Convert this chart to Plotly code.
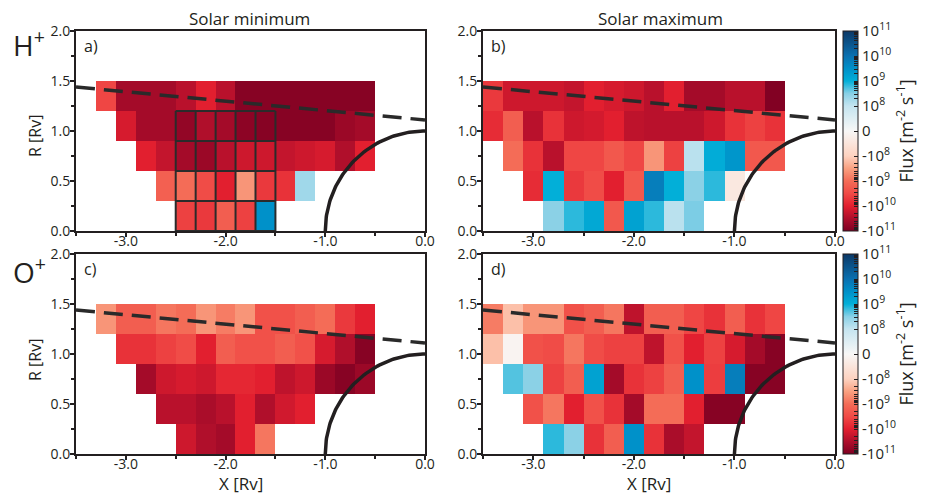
import numpy as np
import plotly.graph_objects as go

# ---------------- data ----------------
X_CENTERS = [-3.4, -3.2, -3.0, -2.8, -2.6, -2.4, -2.2, -2.0, -1.8, -1.6, -1.4, -1.2, -1.0, -0.8, -0.6]
R_CENTERS = [0.15, 0.45, 0.75, 1.05, 1.35]
N = None

# Flux [m^-2 s^-1], rows from bottom (R=0.15) to top (R=1.35)
flux_h_min = [
    [N, N, N, N, N, -4e9, -5e9, -1.6e9, -4e9, 3e9, N, N, N, N, N],
    [N, N, N, N, -1.5e9, -1e9, -3e9, -1e10, -4e8, -5e9, -6e9, 2e8, N, N, N],
    [N, N, N, -1e10, -2e10, -4e10, -5e10, -2.5e10, -1.6e10, -1.6e10, -2e10, -1.6e10, -1.3e10, -3e10, -1e10],
    [N, N, -1.3e10, -4e10, -4e10, -6e10, -3e10, -4e10, -7e10, -8e10, -8e10, -8e10, -8e10, -5e10, -4e10],
    [N, -3.5e9, -4e10, -4e10, -4e10, -2.5e10, -1e10, -2.5e10, -8e10, -8e10, -8e10, -8e10, -8e10, -8e10, -8e10],
]
flux_h_max = [
    [N, N, N, 3e8, 7e8, 1.3e9, -2e9, 1.6e9, 7e8, 1.2e8, 3.5e8, N, N, N, N],
    [N, N, -7e9, 1e9, -5e9, -3e9, -1e10, -2e9, 6e9, 1e9, 3e8, 7e8, -4e7, N, N],
    [N, -1e9, -6e9, -2.5e10, -3.5e9, -3.5e9, -2e9, -3.5e9, -4e8, -4e9, 1.2e8, 1.1e9, 2.5e9, -2e9, -2e9],
    [-7e9, -1.6e9, -2.5e10, -6e9, -1.6e10, -1.4e10, -1e10, -2.2e10, -2.5e10, -2.5e10, -2.5e10, -1.6e10, -6e9, -4e9, -6e9],
    [-5e9, -1.6e10, -1.6e10, -1.6e10, -2e10, -1e10, -1.3e10, -1.6e10, -2.5e10, -1e10, -4e10, -4e10, -2.5e10, -2.5e10, -9e10],
]
flux_o_min = [
    [N, N, N, N, N, -1.6e10, -3e10, -4e10, -1e10, -8e8, N, N, N, N, N],
    [N, N, N, N, -2.5e10, -2.5e10, -3.5e10, -2.5e10, -1e10, -3e10, -1.5e10, -1e10, N, N, N],
    [N, N, N, -4e10, -1.6e10, -1.3e10, -1.6e10, -8e9, -8e9, -1e10, -2.2e10, -1.6e10, -5e10, -8e10, -5e10],
    [N, N, -6e9, -6e9, -4e9, -3e9, -1e10, -1.6e9, -2.5e9, -2.5e9, -1.6e9, -2.5e9, -1.3e10, -3e10, -8e10],
    [N, -4e8, -1.6e9, -1.6e9, -8e8, -1e9, -4e8, -7e8, -4e8, -2.5e9, -2.5e9, -1.6e9, -1e9, -5e9, -1e10],
]
flux_o_max = [
    [N, N, N, 7e8, 3e8, -6e9, -1.6e9, 3e9, -6e9, -3.5e10, -2e10, N, N, N, N],
    [N, N, -2.5e9, -8e8, -1e10, -2.5e9, -6e9, -4e10, -1e9, -1e9, -1e10, -8e10, -8e10, N, N],
    [N, 5e8, 3e8, -4e9, -1.6e9, 1.6e9, -4e10, -6e9, -4e9, -1.6e9, 3e9, -4.5e9, 6e9, -8e10, -8e10],
    [-1.5e8, -1e7, -2.5e9, -3e9, -8e8, -3e9, -4e9, -4e9, -2.2e10, -2.5e9, -1e10, -4e9, -1.3e10, -4e10, -8e10],
    [-7e8, -1.5e8, -4e8, -4e8, -2.5e9, -1.6e9, -8e8, -2.2e10, -1.6e9, -1.6e9, -3.5e9, -6e9, -1.6e9, -6e9, -3.5e9],
]

# highlighted cells in panel a (columns / rows)
HIGHLIGHT_X = [-2.4, -2.2, -2.0, -1.8, -1.6]
HIGHLIGHT_R = [0.15, 0.45, 0.75, 1.05]

# boundary (dashed) and planet outline
BOUNDARY_X = [-3.5, 0.0]
BOUNDARY_R = [1.44, 1.11]
PLANET_RADIUS = 1.0

X_TICKS = [-3.0, -2.0, -1.0, 0.0]
X_TICK_LABELS = ["-3.0", "-2.0", "-1.0", "0.0"]
Y_TICKS = [0.0, 0.5, 1.0, 1.5, 2.0]
Y_TICK_LABELS = ["0.0", "0.5", "1.0", "1.5", "2.0"]
CB_EXPONENTS = [8, 9, 10, 11]

# ---------------- helpers ----------------
LIN = 1e8


def symlog(v):
    if v is None:
        return None
    a = abs(v)
    if a < LIN:
        return v / LIN
    return float(np.sign(v)) * (np.log10(a) - 7)


def tz(rows):
    return [[symlog(v) for v in row] for row in rows]


stops = [
    (-4.0, "#7e0022"),
    (-3.5, "#ae0e2b"),
    (-3.0, "#e21f2f"),
    (-2.5, "#f04a46"),
    (-2.0, "#f46c57"),
    (-1.5, "#f9a080"),
    (-1.0, "#fdd2c0"),
    (0.0, "#f8f7f6"),
    (1.0, "#c4e4f0"),
    (1.5, "#88d0e6"),
    (2.0, "#02afd8"),
    (2.5, "#0090c8"),
    (3.0, "#0a70b0"),
    (4.0, "#0c3866"),
]
COLORSCALE = [[(t + 4) / 8, c] for t, c in stops]

cb_vals, cb_text = [], []
for e in CB_EXPONENTS:
    for s in (1, -1):
        cb_vals.append(s * (e - 7))
        cb_text.append(("" if s > 0 else "-") + "10<sup>%d</sup>" % e)
        if e < CB_EXPONENTS[-1]:
            for m in range(2, 10):
                cb_vals.append(s * (e - 7 + np.log10(m)))
                cb_text.append(" ")
cb_vals.append(0)
cb_text.append("0")

INK = "#231F20"
FONT = "Open Sans"
W, H = 930, 494

boxes = {
    1: (76, 425, 31, 231),
    2: (483, 835, 31, 231),
    3: (76, 425, 254, 454),
    4: (483, 835, 254, 454),
}

fig = go.Figure()

panels = [(1, flux_h_min, "coloraxis"), (2, flux_h_max, "coloraxis"),
          (3, flux_o_min, "coloraxis2"), (4, flux_o_max, "coloraxis2")]

theta = np.linspace(0, np.pi / 2, 80)
arc_x = -PLANET_RADIUS * np.cos(theta)
arc_y = PLANET_RADIUS * np.sin(theta)

for i, data, cax in panels:
    xa = "x" if i == 1 else "x%d" % i
    ya = "y" if i == 1 else "y%d" % i
    fig.add_trace(go.Heatmap(x=X_CENTERS, y=R_CENTERS, z=tz(data), coloraxis=cax,
                             xaxis=xa, yaxis=ya, hoverongaps=False, xgap=0, ygap=0))
    fig.add_trace(go.Scatter(x=BOUNDARY_X, y=BOUNDARY_R, mode="lines", xaxis=xa, yaxis=ya,
                             line=dict(color="#2a2a2a", width=3.5, dash="19px,9px"),
                             showlegend=False, hoverinfo="skip"))
    fig.add_trace(go.Scatter(x=arc_x, y=arc_y, mode="lines", xaxis=xa, yaxis=ya,
                             line=dict(color=INK, width=3.5), showlegend=False, hoverinfo="skip"))

dx = X_CENTERS[1] - X_CENTERS[0]
dr = R_CENTERS[1] - R_CENTERS[0]
x_edges = [c - dx / 2 for c in HIGHLIGHT_X] + [HIGHLIGHT_X[-1] + dx / 2]
r_edges = [c - dr / 2 for c in HIGHLIGHT_R] + [HIGHLIGHT_R[-1] + dr / 2]
gx, gy = [], []
for xe in x_edges:
    gx += [xe, xe, None]
    gy += [r_edges[0], r_edges[-1], None]
for re_ in r_edges:
    gx += [x_edges[0], x_edges[-1], None]
    gy += [re_, re_, None]
fig.add_trace(go.Scatter(x=gx, y=gy, mode="lines", line=dict(color="#2b2b2b", width=2),
                         xaxis="x", yaxis="y", showlegend=False, hoverinfo="skip"))

tickfont = dict(family=FONT, size=14, color=INK)
layout = {}
for i, (l, r, t, b) in boxes.items():
    sx = "" if i == 1 else str(i)
    layout["xaxis" + sx] = dict(
        domain=[l / W, r / W], range=[-3.5, 0.0], anchor="y" + sx,
        tickmode="array", tickvals=X_TICKS, ticktext=X_TICK_LABELS,
        ticks="outside", ticklen=4, tickwidth=1.5, tickcolor=INK, ticklabelstandoff=-8,
        minor=dict(dtick=0.5, tick0=0, ticks="outside", ticklen=3, tickwidth=1.5, tickcolor=INK),
        showline=True, linecolor=INK, linewidth=2, mirror=True,
        showgrid=False, zeroline=False, tickfont=tickfont, fixedrange=True, automargin=False)
    layout["yaxis" + sx] = dict(
        domain=[1 - b / H, 1 - t / H], range=[0.0, 2.0], anchor="x" + sx,
        tickmode="array", tickvals=Y_TICKS, ticktext=Y_TICK_LABELS,
        ticks="outside", ticklen=4, tickwidth=1.5, tickcolor=INK, ticklabelstandoff=-3,
        minor=dict(dtick=0.25, tick0=0, ticks="outside", ticklen=3, tickwidth=1.5, tickcolor=INK),
        showline=True, linecolor=INK, linewidth=2, mirror=True,
        showgrid=False, zeroline=False, tickfont=tickfont, fixedrange=True, automargin=False)


def cbar(top, bottom):
    return dict(
        x=843 / W, xanchor="left", thickness=15, thicknessmode="pixels",
        len=(bottom - top) / H, lenmode="fraction", y=1 - (top + bottom) / 2 / H, yanchor="middle",
        tickmode="array", tickvals=cb_vals, ticktext=cb_text,
        ticks="inside", ticklen=4, tickcolor=INK, tickwidth=1,
        outlinecolor=INK, outlinewidth=1, tickfont=dict(family=FONT, size=15, color=INK),
        ypad=0, xpad=0,
        title=dict(text="Flux [m<sup>-2</sup> s<sup>-1</sup>]", side="right",
                   font=dict(family=FONT, size=18, color=INK)),
    )


layout["coloraxis"] = dict(colorscale=COLORSCALE, cmin=-4, cmax=4, colorbar=cbar(31, 231))
layout["coloraxis2"] = dict(colorscale=COLORSCALE, cmin=-4, cmax=4, colorbar=cbar(254, 454))

ann = []


def A(text, x, y, size, xanchor="center", **kw):
    d = dict(text=text, x=x / W, y=1 - y / H, xref="paper", yref="paper", showarrow=False,
             xanchor=xanchor, yanchor="middle",
             font=dict(family=FONT, size=size, color=INK))
    d.update(kw)
    ann.append(d)


A("Solar minimum", 250, 18, 17)
A("Solar maximum", 660, 18, 17)
A("H<sup>+</sup>", 11, 44, 28, xanchor="left")
A("O<sup>+</sup>", 11, 270, 28, xanchor="left")
A("R [Rv]", 35, 136, 16, textangle=-90)
A("R [Rv]", 35, 360, 16, textangle=-90)
A("X [Rv]", 241, 483, 17)
A("X [Rv]", 649, 483, 17)
for i, lab in zip([1, 2, 3, 4], ["a)", "b)", "c)", "d)"]):
    l, r, t, b = boxes[i]
    A(lab, l + 6, t + 15, 16, xanchor="left")

fig.update_layout(
    width=W, height=H, margin=dict(l=0, r=0, t=0, b=0, autoexpand=False),
    paper_bgcolor="white", plot_bgcolor="white",
    annotations=ann, showlegend=False,
    font=dict(family=FONT, color=INK),
    **layout,
)

fig.write_html("out.html", config={"displayModeBar": False},
               post_script="document.body.style.margin='0';document.body.style.overflow='hidden';")
